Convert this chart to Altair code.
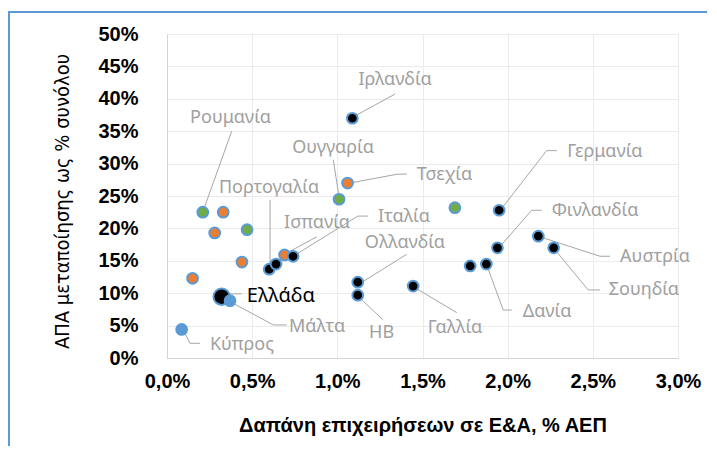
import altair as alt
import pandas as pd

# ---- point data (x: business R&D % GDP, y: manufacturing GVA % of total)
pt_name = ["Ιρλανδία", "Τσεχία", "Ουγγαρία", "Ρουμανία", "", "", "", "", "",
           "Πορτογαλία", "", "Ισπανία", "Ιταλία", "Ελλάδα", "Μάλτα", "Κύπρος",
           "Ολλανδία", "ΗΒ", "Γαλλία", "Γερμανία", "", "Φινλανδία", "Αυστρία",
           "Σουηδία", "Δανία", ""]
pt_x = [1.088, 1.06, 1.01, 0.21, 0.33, 0.28, 0.47, 0.44, 0.15,
        0.60, 0.64, 0.69, 0.74, 0.321, 0.37, 0.086,
        1.12, 1.12, 1.445, 1.95, 1.69, 1.94, 2.18,
        2.27, 1.875, 1.78]
pt_y = [37.0, 27.0, 24.5, 22.5, 22.5, 19.3, 19.8, 14.8, 12.3,
        13.7, 14.5, 15.9, 15.7, 9.46, 8.84, 4.4,
        11.7, 9.7, 11.1, 22.8, 23.2, 17.0, 18.8,
        17.0, 14.5, 14.2]
pt_group = ["black", "orange", "green", "green", "orange", "orange", "green", "orange", "orange",
            "black", "black", "orange", "black", "black", "blue", "blue",
            "black", "black", "black", "black", "green", "black", "black",
            "black", "black", "black"]
pt_big = [False] * 13 + [True] + [False] * 12

# ---- labels
lab_name = ["Ιρλανδία", "Ρουμανία", "Ουγγαρία", "Τσεχία", "Πορτογαλία", "Ισπανία",
            "Ιταλία", "Ολλανδία", "Γερμανία", "Φινλανδία", "Αυστρία", "Σουηδία",
            "Δανία", "Γαλλία", "ΗΒ", "Μάλτα", "Κύπρος", "Ελλάδα"]
lab_x = [1.339, 0.373, 0.975, 1.629, 0.599, 0.881,
         1.391, 1.397, 2.571, 2.513, 2.865, 2.800,
         2.231, 1.691, 1.260, 0.881, 0.440, 0.669]
lab_y = [42.9, 37.0, 32.4, 28.2, 26.2, 20.8,
         21.8, 17.7, 31.8, 22.7, 15.6, 10.5,
         7.1, 4.6, 3.9, 4.8, 2.0, 9.6]
lab_dark = [False] * 17 + [True]

# ---- leader lines (vertices per label)
leader_pts = {
    "Ιρλανδία": [(1.114, 37.5), (1.339, 40.74)],
    "Ρουμανία": [(0.211, 22.6), (0.380, 35.0)],
    "Ουγγαρία": [(1.010, 24.9), (0.976, 30.6)],
    "Τσεχία": [(1.084, 27.05), (1.349, 28.35), (1.408, 28.4)],
    "Πορτογαλία": [(0.605, 13.9), (0.605, 24.4)],
    "Ισπανία": [(0.703, 16.2), (0.879, 18.7)],
    "Ιταλία": [(0.740, 15.7), (1.121, 21.9), (1.180, 21.9)],
    "Ολλανδία": [(1.151, 11.8), (1.407, 16.0)],
    "Γερμανία": [(1.973, 23.35), (2.229, 32.0), (2.288, 32.0)],
    "Φινλανδία": [(1.955, 17.2), (2.141, 22.8), (2.200, 22.8)],
    "Αυστρία": [(2.190, 18.7), (2.542, 15.7), (2.601, 15.7)],
    "Σουηδία": [(2.278, 16.7), (2.473, 10.5), (2.542, 10.5)],
    "Δανία": [(1.877, 14.35), (1.974, 7.4), (2.024, 7.4)],
    "Γαλλία": [(1.446, 11.0), (1.701, 7.0)],
    "ΗΒ": [(1.123, 9.46), (1.270, 5.86)],
    "Μάλτα": [(0.370, 8.7), (0.624, 5.1), (0.703, 5.1)],
    "Κύπρος": [(0.096, 4.3), (0.135, 2.27), (0.194, 2.27)],
    "Ελλάδα": [(0.329, 9.9), (0.439, 9.9)],
}

x_ticks = [0, 0.5, 1.0, 1.5, 2.0, 2.5, 3.0]
y_ticks = [0, 5, 10, 15, 20, 25, 30, 35, 40, 45, 50]

points = pd.DataFrame({"name": pt_name, "x": pt_x, "y": pt_y,
                       "group": pt_group, "big": pt_big})
labels = pd.DataFrame({"name": lab_name, "x": lab_x, "y": lab_y, "dark": lab_dark})
rows = []
for n, verts in leader_pts.items():
    for i, (vx, vy) in enumerate(verts):
        rows.append({"name": n, "x": vx, "y": vy, "i": i})
leaders = pd.DataFrame(rows)

xs = alt.Scale(domain=[0, 3], nice=False, zero=False)
ys = alt.Scale(domain=[0, 50], nice=False, zero=False)

x_axis = alt.Axis(values=x_ticks, tickCount=7,
                  labelExpr="replace(format(datum.value, '.1f'), '.', ',') + '%'",
                  title="Δαπάνη επιχειρήσεων σε Ε&Α, % ΑΕΠ", titleFont="Liberation Sans",
                  titleFontSize=20, titleFontWeight="bold", titleColor="#000000",
                  titleY=67, titleBaseline="middle",
                  labelFont="Liberation Sans", labelFontSize=20, labelFontWeight="bold",
                  labelColor="#000000", labelPadding=13, ticks=False,
                  labelFlush=False, labelOverlap=False,
                  domainColor="#D4D4D4", gridColor="#EBEBEB")
y_axis = alt.Axis(values=y_ticks, tickCount=11,
                  labelExpr="format(datum.value, 'd') + '%'",
                  title="ΑΠΑ μεταποίησης ως % συνόλου",
                  titleFont="DejaVu Sans Condensed, Liberation Sans Narrow, Liberation Sans",
                  titleFontSize=20,
                  titleFontWeight="normal", titleColor="#000000",
                  titleX=-105, titleY=167, titleAngle=270, titleBaseline="middle",
                  titleAlign="center",
                  labelFont="Liberation Sans", labelFontSize=20, labelFontWeight="bold",
                  labelColor="#000000", labelPadding=29, ticks=False,
                  labelFlush=False, labelOverlap=False,
                  domainColor="#D4D4D4", gridColor="#EBEBEB")

X = alt.X("x:Q", scale=xs, axis=x_axis)
Y = alt.Y("y:Q", scale=ys, axis=y_axis)

lines = alt.Chart(leaders).mark_line(color="#A6A6A6", strokeWidth=1).encode(
    x=X, y=Y, detail="name:N", order="i:Q",
)

dots = alt.Chart(points).mark_point(filled=True, opacity=1, stroke="#5B9BD5",
                                    strokeWidth=2).encode(
    x=X, y=Y,
    fill=alt.Fill("group:N", legend=None,
                  scale=alt.Scale(domain=["black", "orange", "green", "blue"],
                                  range=["#000000", "#ED7D31", "#70AD47", "#5B9BD5"])),
    size=alt.Size("big:N", legend=None,
                  scale=alt.Scale(domain=[False, True], range=[115, 270])),
    order=alt.Order("big:N", sort="descending"),
)

texts_gray = alt.Chart(labels).transform_filter("!datum.dark").mark_text(
    font="Noto Sans", fontSize=18, align="center", baseline="middle", color="#A0A0A0"
).encode(x=X, y=Y, text="name:N")

texts_dark = alt.Chart(labels).transform_filter("datum.dark").mark_text(
    font="Noto Sans", fontSize=20, align="center", baseline="middle", color="#000000"
).encode(x=X, y=Y, text="name:N")

frame_left = alt.Chart(points).mark_rect(color="#5B9BD5").encode(
    x=alt.value(-159), x2=alt.value(-157), y=alt.value(-23), y2=alt.value(520))
frame_top = alt.Chart(points).mark_rule(color="#5B9BD5", strokeWidth=2).encode(
    x=alt.value(-159), x2=alt.value(540), y=alt.value(-22))

chart = alt.layer(lines, dots, texts_gray, texts_dark, frame_left, frame_top).properties(
    width=511, height=324,
    autosize=alt.AutoSizeParams(type="none"),
    padding={"left": 159, "top": 26, "right": 31, "bottom": 88},
).configure_view(stroke=None).configure(background="white")

chart.save("out.html", embed_options={"renderer": "svg", "actions": False})
